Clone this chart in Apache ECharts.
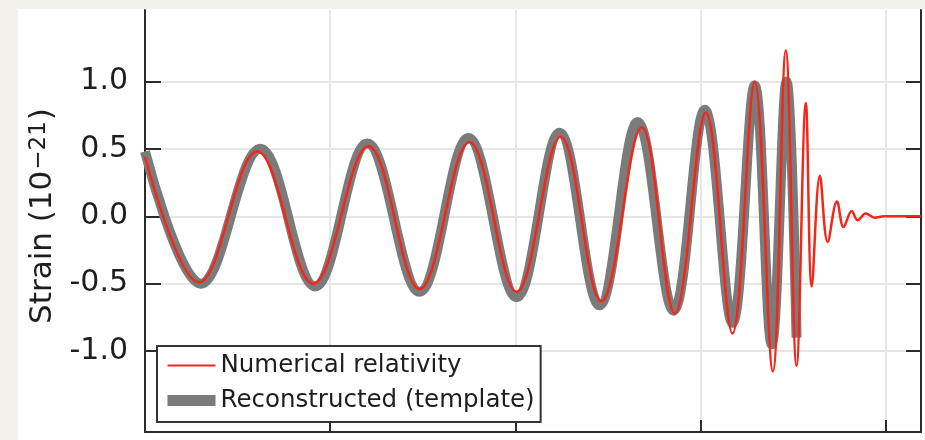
<!DOCTYPE html>
<html>
<head>
<meta charset="utf-8">
<title>Strain waveform</title>
<script src="https://cdn.jsdelivr.net/npm/echarts@6/dist/echarts.min.js"></script>
<style>
  html, body { margin: 0; padding: 0; background: #f4f1ec; }
  #panel { position: absolute; left: 18px; top: 9px; width: 907px; height: 431px; background: #ffffff; }
  #chart { position: absolute; left: 0; top: 0; width: 925px; height: 440px; }
</style>
</head>
<body>
<div id="panel"></div>
<div id="chart"></div>
<script>
// Turning points of the numerical-relativity waveform: time (ms), strain (1e-21)
const timeNR = [
  300.0, 314.6, 330.3, 345.4, 360.3, 374.1, 387.6, 400.3, 412.2, 423.2,
  434.1, 443.0, 451.4, 458.6, 464.6, 469.5, 473.0, 475.9, 478.4, 480.0,
  482.2, 484.3, 486.8, 488.6, 490.8, 492.4, 494.6, 497.0, 499.5, 509.5
];
const strainNR = [
  0.44, -0.49, 0.48, -0.50, 0.52, -0.54, 0.55, -0.56, 0.59, -0.63,
  0.66, -0.72, 0.77, -0.87, 1.00, -1.15, 1.23, -1.11, 0.84, -0.52,
  0.30, -0.19, 0.11, -0.08, 0.04, -0.03, 0.02, -0.01, 0, 0
];

// Turning points of the reconstructed template (ends shortly after merger)
const timeRec = [
  300.0, 315.1, 331.1, 345.9, 360.0, 374.1, 387.3, 400.3, 411.9, 422.7,
  433.0, 442.7, 451.1, 458.6, 464.6, 469.2, 473.2, 475.9
];
const strainRec = [
  0.48, -0.50, 0.50, -0.52, 0.54, -0.56, 0.58, -0.60, 0.62, -0.66,
  0.70, -0.70, 0.79, -0.79, 0.97, -0.95, 1.00, -0.90
];

const strainTicks = [-1.0, -0.5, 0.0, 0.5, 1.0];
const legendNames = ['Numerical relativity', 'Reconstructed (template)'];

const pairs = (xs, ys) => xs.map((x, i) => [x, ys[i]]);
const axisColor = '#2b2b2b';
const gridColor = '#e6e6e6';
const textColor = '#1e1e1e';
const redColor = '#f3261a';
const grayColor = '#7b7b7b';
const fontFamily = '"DejaVu Sans", "Liberation Sans", sans-serif';

const chart = echarts.init(document.getElementById('chart'), null, { renderer: 'canvas' });

chart.setOption({
  animation: false,
  backgroundColor: 'transparent',
  grid: { left: 145, right: 4, top: 10, bottom: 8, containLabel: false },
  legend: {
    orient: 'vertical',
    left: 157,
    top: 346,
    padding: [7, 6, 9, 5],
    itemGap: 10,
    itemWidth: 48,
    itemHeight: 12,
    selectedMode: false,
    backgroundColor: '#ffffff',
    borderColor: '#333333',
    borderWidth: 2,
    borderRadius: 0,
    textStyle: { fontFamily: fontFamily, fontSize: 24.5, color: textColor },
    data: [
      { name: legendNames[0], lineStyle: { width: 2, color: redColor }, itemStyle: { opacity: 0 } },
      { name: legendNames[1], lineStyle: { width: 11, color: grayColor }, itemStyle: { opacity: 0 } }
    ]
  },
  xAxis: {
    type: 'value',
    min: 300,
    max: 509.5,
    interval: 50,
    axisLine: { show: true, onZero: false, lineStyle: { color: axisColor, width: 2 } },
    axisTick: { show: true, inside: true, length: 12, lineStyle: { color: axisColor, width: 2 } },
    axisLabel: { show: false },
    splitLine: { show: true, lineStyle: { color: gridColor, width: 2 } }
  },
  yAxis: [
    {
      type: 'value',
      position: 'left',
      min: -1.6,
      max: 1.53,
      name: '{a|Strain (10}{s|−21}{n|)}',
      nameLocation: 'middle',
      nameGap: 81,
      nameRotate: 90,
      nameTextStyle: {
        rich: {
          a: { fontFamily: fontFamily, fontSize: 31, color: textColor, padding: [0, 0, 0, 10] },
          n: { fontFamily: fontFamily, fontSize: 31, color: textColor },
          s: { fontFamily: fontFamily, fontSize: 23, color: textColor, verticalAlign: 'top', padding: [0, 1, 0, 1] }
        }
      },
      axisLine: { show: true, onZero: false, lineStyle: { color: axisColor, width: 2 } },
      axisTick: { show: true, inside: true, length: 16, customValues: strainTicks, lineStyle: { color: axisColor, width: 2 } },
      axisLabel: {
        show: true,
        customValues: strainTicks,
        margin: 17,
        fontFamily: fontFamily,
        fontSize: 30,
        color: textColor,
        formatter: v => v.toFixed(1)
      },
      splitLine: { show: true, lineStyle: { color: gridColor, width: 2 } }
    },
    {
      type: 'value',
      position: 'right',
      min: -1.6,
      max: 1.53,
      axisLine: { show: true, onZero: false, lineStyle: { color: axisColor, width: 2 } },
      axisTick: { show: true, inside: true, length: 15, customValues: strainTicks, lineStyle: { color: axisColor, width: 2 } },
      axisLabel: { show: false },
      splitLine: { show: false }
    }
  ],
  series: [
    {
      name: legendNames[1],
      type: 'line',
      data: pairs(timeRec, strainRec),
      smooth: 0.38,
      symbol: 'none',
      z: 2,
      lineStyle: { color: grayColor, width: 10 },
      itemStyle: { color: grayColor }
    },
    {
      name: legendNames[0],
      type: 'line',
      data: pairs(timeNR, strainNR),
      smooth: 0.38,
      symbol: 'none',
      z: 3,
      lineStyle: { color: redColor, width: 2.5 },
      itemStyle: { color: redColor }
    }
  ]
});
</script>
</body>
</html>
